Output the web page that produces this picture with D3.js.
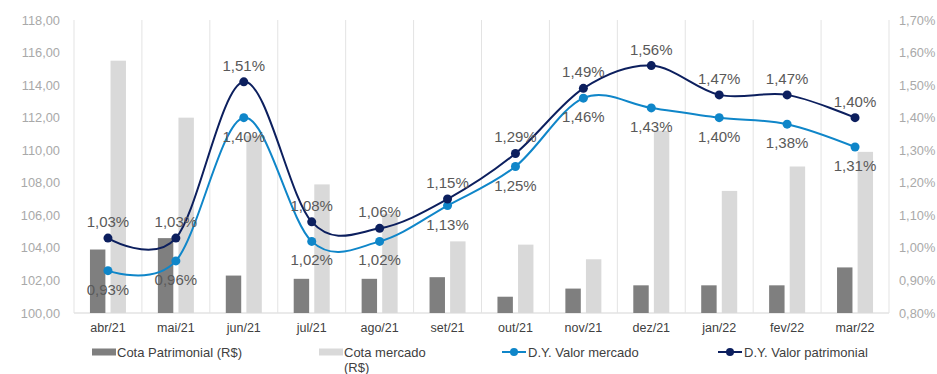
<!DOCTYPE html>
<html>
<head>
<meta charset="utf-8">
<script src="https://cdn.jsdelivr.net/npm/d3@7"></script>
<style>
  html, body { margin: 0; padding: 0; background: #ffffff; }
  svg { display: block; font-family: "Liberation Sans", Arial, sans-serif; }
</style>
</head>
<body>
<svg id="chart" width="937" height="374"></svg>
<script>
// Monthly figures, Apr/2021 – Mar/2022
const months = ["abr/21","mai/21","jun/21","jul/21","ago/21","set/21","out/21","nov/21","dez/21","jan/22","fev/22","mar/22"];
const cotaPatrimonial = [103.9, 104.6, 102.3, 102.1, 102.1, 102.2, 101.0, 101.5, 101.7, 101.7, 101.7, 102.8];
const cotaMercado     = [115.5, 112.0, 110.9, 107.9, 106.1, 104.4, 104.2, 103.3, 111.2, 107.5, 109.0, 109.9];
const dyMercado       = [0.93, 0.96, 1.40, 1.02, 1.02, 1.13, 1.25, 1.46, 1.43, 1.40, 1.38, 1.31];
const dyPatrimonial   = [1.03, 1.03, 1.51, 1.08, 1.06, 1.15, 1.29, 1.49, 1.56, 1.47, 1.47, 1.40];
const leftTicks  = [100, 102, 104, 106, 108, 110, 112, 114, 116, 118];
const rightTicks = [0.8, 0.9, 1.0, 1.1, 1.2, 1.3, 1.4, 1.5, 1.6, 1.7];

const C = {
  dark: "#7f7f7f", light: "#d9d9d9",
  blue: "#0f86c9", navy: "#0c1f5e",
  grid: "#e3e3e3", tick: "#a9a9a9", axisText: "#404040", label: "#595959"
};

const svg = d3.select("#chart");
const plot = { left: 74, right: 889, top: 20, bottom: 313 };

const x = d3.scaleBand().domain(months).range([plot.left, plot.right]);
const xs = d3.scaleBand().domain(["pat", "mer"]).range([-18, 18]).paddingInner(0.25);
const yL = d3.scaleLinear().domain([100, 118]).range([plot.bottom, plot.top]);
const yR = d3.scaleLinear().domain([0.8, 1.7]).range([plot.bottom, plot.top]);
const cx = m => x(m) + x.bandwidth() / 2;

const fmtNum = v => d3.format(".2f")(v).replace(".", ",");
const fmtPct = v => d3.format(".2f")(v).replace(".", ",") + "%";

// vertical separators between months
svg.append("g").selectAll("line")
  .data(d3.range(months.length + 1))
  .join("line")
  .attr("x1", i => plot.left + i * x.step()).attr("x2", i => plot.left + i * x.step())
  .attr("y1", plot.top).attr("y2", plot.bottom)
  .attr("stroke", C.grid).attr("stroke-width", 1);

// baseline
svg.append("line")
  .attr("x1", plot.left).attr("x2", plot.right)
  .attr("y1", plot.bottom).attr("y2", plot.bottom)
  .attr("stroke", C.grid).attr("stroke-width", 1.5);

// left axis
const axL = svg.append("g").attr("transform", `translate(${plot.left - 14},0)`)
  .call(d3.axisLeft(yL).tickValues(leftTicks).tickFormat(fmtNum).tickSize(0).tickPadding(0));
axL.select(".domain").remove();
axL.selectAll("text").attr("fill", C.tick).style("font-size", "12.8px")
  .style("font-family", "Liberation Sans, Arial, sans-serif");

// right axis
const axR = svg.append("g").attr("transform", `translate(${plot.right + 10},0)`)
  .call(d3.axisRight(yR).tickValues(rightTicks).tickFormat(fmtPct).tickSize(0).tickPadding(0));
axR.select(".domain").remove();
axR.selectAll("text").attr("fill", C.tick).style("font-size", "12.8px")
  .style("font-family", "Liberation Sans, Arial, sans-serif");

// bottom axis labels
const axB = svg.append("g").attr("transform", `translate(0,${plot.bottom + 10})`)
  .call(d3.axisBottom(x).tickSize(0).tickPadding(0));
axB.select(".domain").remove();
axB.selectAll("text").attr("fill", C.axisText).style("font-size", "12.5px")
  .style("font-family", "Liberation Sans, Arial, sans-serif");

// bars
const barG = svg.append("g");
barG.selectAll("rect.pat").data(months).join("rect").attr("class", "pat")
  .attr("x", (m) => cx(m) + xs("pat")).attr("width", xs.bandwidth())
  .attr("y", (m, i) => yL(cotaPatrimonial[i]))
  .attr("height", (m, i) => yL(100) - yL(cotaPatrimonial[i]))
  .attr("fill", C.dark);
barG.selectAll("rect.mer").data(months).join("rect").attr("class", "mer")
  .attr("x", (m) => cx(m) + xs("mer")).attr("width", xs.bandwidth())
  .attr("y", (m, i) => yL(cotaMercado[i]))
  .attr("height", (m, i) => yL(100) - yL(cotaMercado[i]))
  .attr("fill", C.light);

// smoothed yield lines
const line = d3.line().x(d => d[0]).y(d => d[1]).curve(d3.curveCardinal.tension(0));
function drawSeries(values, color) {
  const pts = months.map((m, i) => [cx(m), yR(values[i])]);
  svg.append("path").attr("d", line(pts)).attr("fill", "none")
    .attr("stroke", color).attr("stroke-width", 2);
  svg.append("g").selectAll("circle").data(pts).join("circle")
    .attr("cx", d => d[0]).attr("cy", d => d[1]).attr("r", 4.5).attr("fill", color);
}
drawSeries(dyMercado, C.blue);
drawSeries(dyPatrimonial, C.navy);

// value labels
function drawLabels(values, dy) {
  svg.append("g").selectAll("text").data(months).join("text")
    .attr("x", m => cx(m)).attr("y", (m, i) => yR(values[i]) + dy)
    .attr("text-anchor", "middle").attr("fill", C.label)
    .style("font-size", "15px")
    .text((m, i) => fmtPct(values[i]));
}
drawLabels(dyPatrimonial, -11);
drawLabels(dyMercado, 24);

// legend
const lg = svg.append("g").style("font-size", "13px").attr("fill", C.axisText);
lg.append("rect").attr("x", 92).attr("y", 348.5).attr("width", 24).attr("height", 7).attr("fill", C.dark);
lg.append("text").attr("x", 117).attr("y", 357).text("Cota Patrimonial (R$)");
lg.append("rect").attr("x", 319).attr("y", 348.5).attr("width", 24).attr("height", 7).attr("fill", C.light);
const t2 = lg.append("text").attr("x", 344).attr("y", 357);
t2.append("tspan").text("Cota mercado");
t2.append("tspan").attr("x", 344).attr("dy", 15).text("(R$)");

function lineKey(x0, color, label) {
  lg.append("line").attr("x1", x0).attr("x2", x0 + 24).attr("y1", 352).attr("y2", 352)
    .attr("stroke", color).attr("stroke-width", 2);
  lg.append("circle").attr("cx", x0 + 12).attr("cy", 352).attr("r", 4).attr("fill", color);
  lg.append("text").attr("x", x0 + 26).attr("y", 357).text(label);
}
lineKey(502, C.blue, "D.Y. Valor mercado");
lineKey(718, C.navy, "D.Y. Valor patrimonial");
</script>
</body>
</html>
